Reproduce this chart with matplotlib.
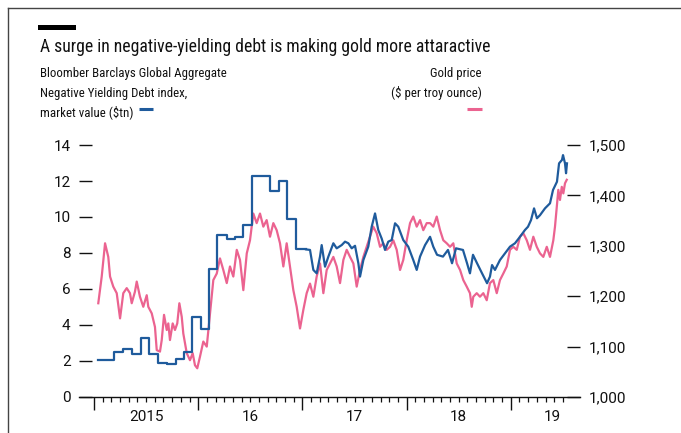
import matplotlib
matplotlib.use("Agg")
import matplotlib.pyplot as plt
import matplotlib.transforms as mtransforms
from matplotlib.lines import Line2D
from matplotlib.patches import Rectangle
from matplotlib import font_manager

# ---------------- text ----------------
title = "A surge in negative-yielding debt is making gold more attaractive"
left_label = ["Bloomber Barclays Global Aggregate",
              "Negative Yielding Debt index,",
              "market value ($tn)"]
right_label = ["Gold price", "($ per troy ounce)"]

# ---------------- axes ----------------
years = [2015, 2016, 2017, 2018, 2019]
year_labels = ["2015", "16", "17", "18", "19"]
year_label_pos = [2015.5, 2016.5, 2017.5, 2018.5, 2019.4]
left_ticks = [0, 2, 4, 6, 8, 10, 12, 14]
right_ticks = [1000, 1100, 1200, 1300, 1400, 1500]

# ---------------- data ----------------
# Negative-yielding debt, $tn: monthly steps (2015-2016), then daily
debt_step_t = [2015.038, 2015.192, 2015.278, 2015.362, 2015.448, 2015.531,
               2015.617, 2015.701, 2015.787, 2015.864, 2015.938, 2016.027,
               2016.107, 2016.183, 2016.274, 2016.353, 2016.433, 2016.519,
               2016.689, 2016.775, 2016.855, 2016.936]
debt_step_v = [2.06, 2.5, 2.65, 2.37, 3.26, 2.39,
               1.9, 1.85, 2.09, 2.5, 4.43, 3.8,
               7.1, 9.0, 8.78, 8.9, 9.56, 12.28,
               11.46, 12.0, 9.9, 8.2]
debt_daily_t = [2017.035, 2017.073, 2017.105, 2017.137, 2017.169, 2017.185,
                2017.217, 2017.249, 2017.297, 2017.329, 2017.377, 2017.409,
                2017.441, 2017.473, 2017.505, 2017.537, 2017.553, 2017.585,
                2017.632, 2017.665, 2017.697, 2017.728, 2017.761, 2017.793,
                2017.824, 2017.857, 2017.889, 2017.920, 2017.968, 2018.016,
                2018.064, 2018.097, 2018.129, 2018.177, 2018.225, 2018.256,
                2018.292, 2018.349, 2018.397, 2018.436, 2018.474, 2018.541,
                2018.580, 2018.608, 2018.637, 2018.676, 2018.724, 2018.772,
                2018.800, 2018.820, 2018.848, 2018.896, 2018.944, 2018.992,
                2019.040, 2019.088, 2019.136, 2019.165, 2019.194, 2019.223,
                2019.251, 2019.280, 2019.328, 2019.376, 2019.405, 2019.443,
                2019.463, 2019.491, 2019.501, 2019.520, 2019.530, 2019.539]
debt_daily_v = [8.2, 8.17, 7.06, 6.87, 7.8, 8.44,
                7.24, 7.8, 8.54, 8.26, 8.44, 8.63,
                8.54, 8.26, 8.4, 7.43, 6.69, 7.61,
                8.35, 9.46, 10.2, 9.28, 8.8, 8.17,
                8.63, 8.72, 9.65, 9.46, 8.72, 8.35,
                7.61, 7.06, 7.8, 8.44, 8.9, 8.35,
                7.9, 7.8, 8.17, 7.43, 8.26, 8.17,
                7.43, 6.87, 7.9, 7.43, 6.87, 6.32,
                6.69, 7.33, 7.06, 7.61, 7.98, 8.35,
                8.54, 8.9, 9.28, 9.46, 9.83, 10.48,
                9.93, 10.1, 10.48, 10.76, 11.5, 11.96,
                12.98, 13.17, 13.44, 12.98, 12.43, 12.98]

# Gold price, $ per troy ounce
gold_t = [2015.041, 2015.074, 2015.106, 2015.137, 2015.154, 2015.185, 2015.218,
          2015.250, 2015.281, 2015.314, 2015.345, 2015.362, 2015.393, 2015.410,
          2015.441, 2015.473, 2015.506, 2015.521, 2015.554, 2015.585, 2015.602,
          2015.633, 2015.650, 2015.672, 2015.698, 2015.713, 2015.729, 2015.755,
          2015.777, 2015.799, 2015.819, 2015.842, 2015.857, 2015.890, 2015.921,
          2015.947, 2015.969, 2015.991, 2016.017, 2016.049, 2016.082, 2016.113,
          2016.145, 2016.178, 2016.209, 2016.241, 2016.274, 2016.305, 2016.337,
          2016.370, 2016.401, 2016.433, 2016.466, 2016.497, 2016.529, 2016.561,
          2016.593, 2016.625, 2016.657, 2016.689, 2016.721, 2016.753, 2016.785,
          2016.817, 2016.849, 2016.881, 2016.913, 2016.945, 2016.977, 2017.009,
          2017.041, 2017.073, 2017.105, 2017.137, 2017.169, 2017.201, 2017.233,
          2017.265, 2017.297, 2017.329, 2017.361, 2017.393, 2017.425, 2017.457,
          2017.489, 2017.521, 2017.553, 2017.585, 2017.617, 2017.649, 2017.680,
          2017.713, 2017.745, 2017.776, 2017.809, 2017.841, 2017.872, 2017.905,
          2017.937, 2017.968, 2018.001, 2018.033, 2018.064, 2018.097, 2018.129,
          2018.160, 2018.193, 2018.225, 2018.256, 2018.289, 2018.321, 2018.352,
          2018.385, 2018.417, 2018.448, 2018.481, 2018.513, 2018.544, 2018.577,
          2018.608, 2018.625, 2018.640, 2018.673, 2018.704, 2018.736, 2018.769,
          2018.800, 2018.832, 2018.865, 2018.896, 2018.928, 2018.961, 2018.992,
          2019.024, 2019.057, 2019.088, 2019.120, 2019.153, 2019.184, 2019.216,
          2019.249, 2019.280, 2019.312, 2019.345, 2019.376, 2019.408, 2019.424,
          2019.441, 2019.456, 2019.472, 2019.489, 2019.504, 2019.520, 2019.537]
gold_v = [1186, 1239, 1305, 1278, 1239, 1219, 1206,
          1156, 1206, 1216, 1206, 1186, 1209, 1229,
          1199, 1179, 1202, 1179, 1166, 1139, 1093,
          1090, 1113, 1163, 1133, 1146, 1113, 1146,
          1133, 1146, 1186, 1159, 1126, 1087, 1073,
          1087, 1063, 1057, 1080, 1110, 1100, 1166,
          1232, 1245, 1275, 1252, 1226, 1259, 1239,
          1292, 1272, 1212, 1285, 1311, 1364, 1345,
          1364, 1338, 1351, 1318, 1345, 1331, 1305,
          1259, 1305, 1259, 1212, 1179, 1136, 1173,
          1206, 1225, 1199, 1239, 1265, 1206, 1252,
          1265, 1278, 1259, 1226, 1272, 1292, 1278,
          1265, 1219, 1252, 1278, 1298, 1318, 1338,
          1325, 1298, 1305, 1292, 1298, 1311, 1292,
          1252, 1272, 1311, 1345, 1358, 1338, 1351,
          1331, 1345, 1345, 1338, 1358, 1331, 1311,
          1305, 1298, 1305, 1265, 1252, 1232, 1219,
          1206, 1179, 1199, 1206, 1199, 1206, 1192,
          1226, 1232, 1206, 1232, 1245, 1259, 1292,
          1298, 1292, 1318, 1325, 1311, 1292, 1318,
          1298, 1285, 1278, 1298, 1278, 1311, 1338,
          1378, 1411, 1391, 1417, 1404, 1424, 1431]

# ---------------- style ----------------
BLUE = "#1f5b9c"
PINK = "#eb6390"
INK = "#111111"
W, H = 681, 433

available = {f.name for f in font_manager.fontManager.ttflist}
def fams(*names):
    out = [n for n in names if n in available]
    return out + ["DejaVu Sans"]

COND = fams("Roboto Condensed", "Open Sans Condensed", "Roboto")
NUM = fams("Roboto", "Open Sans")
plt.rcParams["font.family"] = NUM

fig = plt.figure(figsize=(W / 100, H / 100), dpi=100)
fig.patch.set_facecolor("white")

def fx(x):
    return x / W

def fy(y):
    return 1 - y / H

ax = fig.add_axes([fx(79), fy(397), (580 - 79) / W, (397 - 145) / H])
ax2 = ax.twinx()
ax.set_zorder(ax2.get_zorder() + 1)
ax.patch.set_visible(False)

ax.set_xlim(2014.856, 2019.664)
ax.set_ylim(0, 14)
ax2.set_ylim(1000, 1500)

# gold (right axis)
ax2.plot(gold_t, gold_v, color=PINK, lw=1.6, solid_joinstyle="round", clip_on=False)
# debt (left axis)
ax.plot(debt_step_t + [debt_daily_t[0]], debt_step_v + [debt_step_v[-1]],
        drawstyle="steps-post", color=BLUE, lw=1.6, clip_on=False)
ax.plot(debt_daily_t, debt_daily_v, color=BLUE, lw=1.6, solid_joinstyle="round",
        clip_on=False)

for a in (ax, ax2):
    for s in ["top", "left", "right", "bottom"]:
        a.spines[s].set_visible(False)
ax.spines["bottom"].set_visible(True)
ax.spines["bottom"].set_linewidth(1.0)
ax.spines["bottom"].set_color(INK)

ax.set_yticks(left_ticks)
ax.set_yticklabels([str(v) for v in left_ticks])
ax.tick_params(axis="y", direction="in", length=9, width=1.0, pad=6,
               labelsize=11, colors=INK)
ax2.set_yticks(right_ticks)
ax2.set_yticklabels([f"{v:,}" for v in right_ticks])
ax2.tick_params(axis="y", direction="in", length=9.5, width=1.0, pad=6,
                labelsize=11, colors=INK)

ax.set_xticks(years)
ax.set_xticklabels([])
ax.set_xticks([2015 + m / 12 for m in range(0, 55) if m % 12 != 0], minor=True)
ax.tick_params(axis="x", which="major", direction="out", length=9.5, width=1.0,
               colors=INK)
ax.tick_params(axis="x", which="minor", direction="out", length=3.5, width=0.9,
               colors=INK)

trans = mtransforms.blended_transform_factory(ax.transData, ax.transAxes)
for pos, lab in zip(year_label_pos, year_labels):
    ax.text(pos, -20 / 252, lab, transform=trans, ha="center", va="center",
            fontsize=11, color=INK)

# frame
fig.add_artist(Line2D([fx(8), fx(W)], [fy(8), fy(8)], color="#444444", lw=1.0))
fig.add_artist(Line2D([fx(8), fx(8)], [fy(8), fy(H)], color="#444444", lw=1.0))
fig.add_artist(Rectangle((fx(38), fy(30)), (76 - 38) / W, 5 / H, color="black", lw=0))

fig.text(fx(40), fy(52.5), title, fontsize=12.7, ha="left", va="baseline",
         color=INK, family=COND)
for i, line in enumerate(left_label):
    fig.text(fx(40), fy(77 + 19.5 * i), line, fontsize=9.3, ha="left", va="baseline",
             color=INK, family=COND)
for i, line in enumerate(right_label):
    fig.text(fx(482), fy(77 + 19.5 * i), line, fontsize=9.3, ha="right", va="baseline",
             color=INK, family=COND)

# legend dashes
fig.canvas.draw()
r = fig.canvas.get_renderer()
last = [t for t in fig.texts if t.get_text() == left_label[-1]][0]
bb = last.get_window_extent(renderer=r)
x0 = bb.x1 + 5
fig.add_artist(Line2D([x0 / W, (x0 + 14) / W], [fy(109), fy(109)], color=BLUE, lw=2.2,
                      solid_capstyle="butt"))
fig.add_artist(Line2D([fx(467), fx(482)], [fy(109), fy(109)], color=PINK, lw=2.2,
                      solid_capstyle="butt"))

fig.savefig("out.png", dpi=100, facecolor="white")
